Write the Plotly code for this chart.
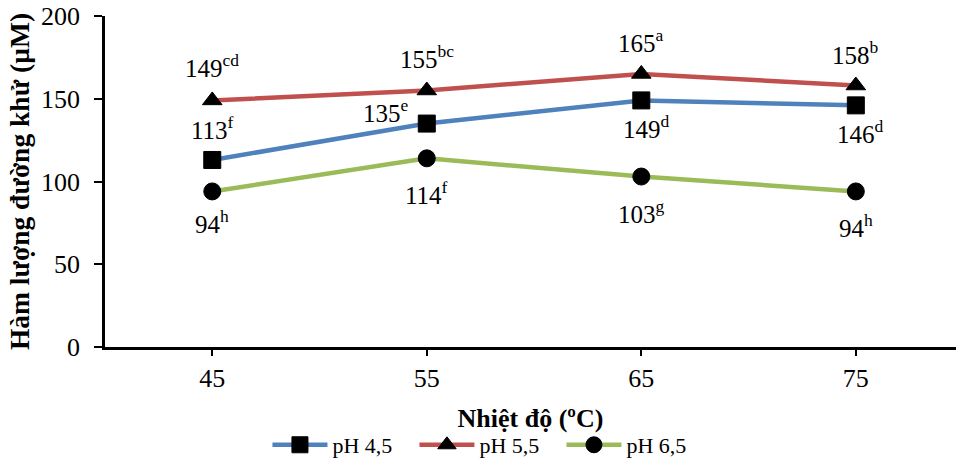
import plotly.graph_objects as go

temps = ["45", "55", "65", "75"]
ph45 = [113, 135, 149, 146]
ph55 = [149, 155, 165, 158]
ph65 = [94, 114, 103, 94]
lab45 = ["113<sup>f</sup>", "135<sup>e</sup>", "149<sup>d</sup>", "146<sup>d</sup>"]
lab55 = ["149<sup>cd</sup>", "155<sup>bc</sup>", "165<sup>a</sup>", "158<sup>b</sup>"]
lab65 = ["94<sup>h</sup>", "114<sup>f</sup>", "103<sup>g</sup>", "94<sup>h</sup>"]
yticks = [0, 50, 100, 150, 200]

FONT = "Liberation Serif, Times New Roman, serif"

fig = go.Figure()
series = [
    ("pH 4,5", ph45, "#4F81BD", "square"),
    ("pH 5,5", ph55, "#C0504D", "triangle-up"),
    ("pH 6,5", ph65, "#9BBB59", "circle"),
]
for name, vals, col, sym in series:
    fig.add_trace(go.Scatter(
        x=temps, y=vals, name=name, mode="lines+markers",
        line=dict(color=col, width=4.5),
        marker=dict(symbol=sym, size=17, color="black", line=dict(color="black", width=1)),
    ))

# label offsets (px): (xshift, yshift)
offs45 = [(0, 32), (-41, 13), (5, -27), (5, -27)]
offs55 = [(0, 34), (0, 33), (0, 33), (0, 33)]
offs65 = [(0, -31), (0, -35), (0, -35), (0, -35)]
for vals, labs, offs in [(ph45, lab45, offs45), (ph55, lab55, offs55), (ph65, lab65, offs65)]:
    for i, (v, l, (dx, dy)) in enumerate(zip(vals, labs, offs)):
        fig.add_annotation(x=i, y=v, xref="x", yref="y", text=l, showarrow=False,
                           xshift=dx, yshift=dy,
                           font=dict(family=FONT, size=25, color="black"))

fig.update_layout(
    width=956, height=461,
    margin=dict(l=105, r=0, t=16, b=114, autoexpand=False),
    paper_bgcolor="white", plot_bgcolor="white",
    font=dict(family=FONT, size=25, color="black"),
    showlegend=True,
    legend=dict(orientation="h", xanchor="center", yanchor="middle",
                x=0.45, y=-0.296, font=dict(family=FONT, size=22, color="black"),
                itemwidth=55, entrywidth=77, entrywidthmode="pixels",
                bgcolor="rgba(0,0,0,0)"),
    xaxis=dict(
        type="category", range=[-0.5, 3.467], showgrid=False, zeroline=False,
        showline=True, linecolor="black", linewidth=2.5, automargin=False,
        ticks="outside", ticklen=6, tickwidth=1.5, tickcolor="black",
        tickfont=dict(family=FONT, size=26, color="black"),
        title=dict(text="<b>Nhiệt độ (ºC)</b>", font=dict(family=FONT, size=26, color="black"), standoff=17),
    ),
    yaxis=dict(
        range=[0, 200], tickvals=yticks, showgrid=False, zeroline=False,
        showline=True, linecolor="black", linewidth=2.5, automargin=False,
        ticks="outside", ticklen=8, tickwidth=1.5, tickcolor="black",
        ticklabelstandoff=9,
        tickfont=dict(family=FONT, size=26, color="black"),
        title=dict(text="<b>Hàm lượng đường khử (µM)</b>", font=dict(family=FONT, size=27.5, color="black"), standoff=4),
    ),
)

fig.write_html("out.html")
